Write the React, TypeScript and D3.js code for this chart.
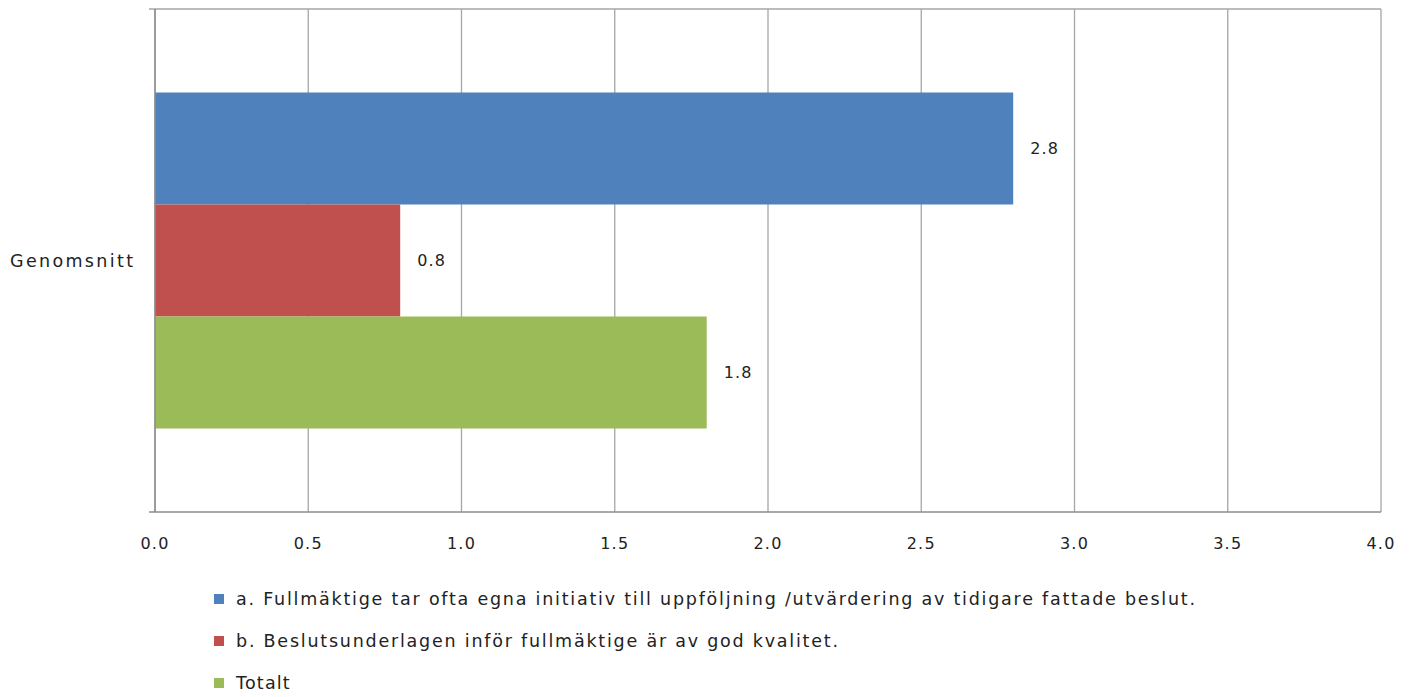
import React from "react";
import * as d3 from "d3";

const categories = ["Genomsnitt"];
const seriesNames = [
  "a. Fullmäktige tar ofta egna initiativ till uppföljning /utvärdering av tidigare fattade beslut.",
  "b. Beslutsunderlagen inför fullmäktige är av god kvalitet.",
  "Totalt",
];
const seriesValues = [2.8, 0.8, 1.8];
const seriesColors = ["#4f81bd", "#c0504d", "#9bbb59"];
const xTicks = [0, 0.5, 1, 1.5, 2, 2.5, 3, 3.5, 4];

const W = 1415;
const H = 697;
const plot = { left: 155, right: 1381, top: 9, bottom: 512 };
const FONT = "'DejaVu Sans', Verdana, sans-serif";
const legendWidths: (number | undefined)[] = [959, 602, undefined];

export default function App() {
  const x = d3.scaleLinear().domain([0, 4]).range([plot.left, plot.right]);
  const yCat = d3
    .scaleBand<string>()
    .domain(categories)
    .range([plot.top, plot.bottom])
    .paddingInner(0)
    .paddingOuter(0);
  const groupTop = yCat(categories[0])!;
  const barH = 112;
  const gap = (yCat.bandwidth() - barH * seriesValues.length) / 2;
  const yBar = (i: number) => groupTop + gap + i * barH;

  return (
    <div style={{ margin: -8 }}>
      <svg width={W} height={H} style={{ display: "block", fontFamily: FONT }}>
        <rect width={W} height={H} fill="#fff" />
        {xTicks.map((t) => (
          <line
            key={"g" + t}
            x1={x(t)}
            x2={x(t)}
            y1={plot.top}
            y2={plot.bottom}
            stroke="#a6a6a6"
            strokeWidth={1.3}
          />
        ))}
        <line x1={plot.left - 6} x2={plot.right} y1={plot.top} y2={plot.top} stroke="#a6a6a6" strokeWidth={1.3} />
        {seriesValues.map((v, i) => (
          <rect
            key={"b" + i}
            x={x(0)}
            y={yBar(i)}
            width={x(v) - x(0)}
            height={barH}
            fill={seriesColors[i]}
          />
        ))}
        {seriesValues.map((v, i) => (
          <text
            key={"v" + i}
            x={x(v) + 17}
            y={yBar(i) + barH / 2}
            dy="0.35em"
            fontSize={16}
            letterSpacing={1.2}
            fill="#222"
          >
            {d3.format(".1f")(v)}
          </text>
        ))}
        <line x1={plot.left} x2={plot.left} y1={plot.top} y2={plot.bottom} stroke="#8c8c8c" strokeWidth={1.5} />
        <line x1={plot.left - 6} x2={plot.right} y1={plot.bottom} y2={plot.bottom} stroke="#8c8c8c" strokeWidth={1.5} />
        {xTicks.map((t) => (
          <text
            key={"t" + t}
            x={x(t)}
            y={plot.bottom + 31}
            dy="0.35em"
            textAnchor="middle"
            fontSize={16}
            letterSpacing={1.2}
            fill="#222"
          >
            {d3.format(".1f")(t)}
          </text>
        ))}
        {categories.map((c) => (
          <text
            key={c}
            x={10}
            y={yCat(c)! + yCat.bandwidth() / 2}
            dy="0.35em"
            fontSize={17.5}
            textLength={123}
            lengthAdjust="spacing"
            fill="#222"
          >
            {c}
          </text>
        ))}
        {seriesNames.map((n, i) => (
          <g key={"l" + i} transform={`translate(214, ${599 + i * 42})`}>
            <rect x={0} y={-5} width={10} height={10} fill={seriesColors[i]} />
            <text
              x={22}
              y={0}
              dy="0.35em"
              fontSize={17.5}
              letterSpacing={legendWidths[i] ? undefined : 1.2}
              textLength={legendWidths[i]}
              lengthAdjust="spacing"
              fill="#222"
            >
              {n}
            </text>
          </g>
        ))}
      </svg>
    </div>
  );
}
